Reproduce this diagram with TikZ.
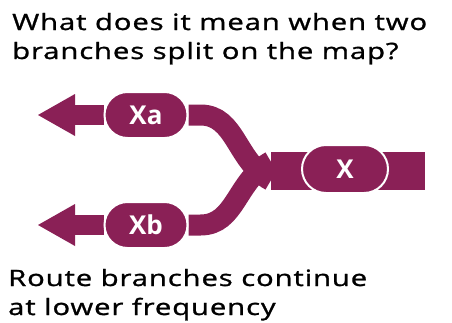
\documentclass[tikz,border=0pt]{standalone}
\usepackage{fontspec}
\setmainfont{Open Sans}
\newfontfamily\headfont{Open Sans}[FakeStretch=1.3, LetterSpace=4, FakeBold=1.2]
\usetikzlibrary{shapes.misc,arrows.meta,backgrounds}
\definecolor{route}{HTML}{8A2056}
\begin{document}
\begin{tikzpicture}[x=1pt,y=-1pt,
  pill/.style={rounded rectangle, fill=route, draw=white, line width=2pt,
    text=white, font=\fontsize{26}{26}\selectfont\bfseries,
    minimum width=83pt, minimum height=46pt, inner sep=0pt},
  band/.style={rectangle, fill=route, inner sep=0pt,
    minimum width=154pt, minimum height=38pt},
  branch/.style={route, line width=21pt},
  tail/.style={route, line width=20pt,
    -{Triangle[length=37pt,width=42pt,line width=0pt]}},
  caption/.style={anchor=base west, align=left, inner sep=0pt,
    font=\headfont\fontsize{22.5}{29}\selectfont, text=black}]
\useasboundingbox (0,0) rectangle (452,322);

% headings (anchored on the baseline of their last line)
\node[caption] (q) at (12,59) {What does it mean when two\\branches split on the map?};
\node[caption] (a) at (8,315) {Route branches continue\\at lower frequency};

% trunk line
\node[band] (trunk) at (348,171) {};
\coordinate (ja) at ([yshift=-9.5pt]trunk.west);
\coordinate (jb) at ([yshift=9.5pt]trunk.west);

% arrow tips of the two branches
\coordinate (ta) at (38,115);
\coordinate (tb) at (38,225);

% stations
\node[pill] (xa) at (146,115) {Xa};
\node[pill] (xb) at (146,225) {Xb};
\node[pill, minimum width=86pt, minimum height=48pt] (x) at (345,169) {X};

% branches, kept beneath the stations
\begin{pgfonlayer}{background}
\draw[branch] (xa.east) -- ++(12,0) .. controls (236,115) and (236,161.5) .. (ja);
\draw[branch] (xb.east) -- ++(12,0) .. controls (236,225) and (236,180.5) .. (jb);
\draw[tail] (xa.west) -- (ta);
\draw[tail] (xb.west) -- (tb);
\end{pgfonlayer}
\end{tikzpicture}
\end{document}
